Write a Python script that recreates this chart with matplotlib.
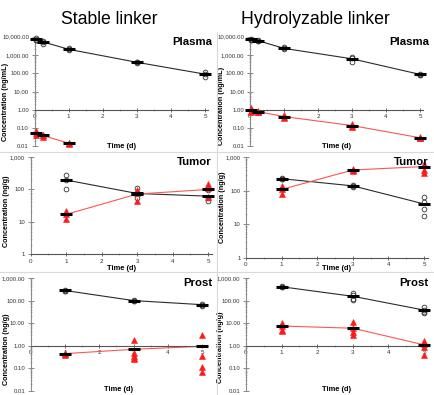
import numpy as np
import matplotlib
matplotlib.use("Agg")
import matplotlib.pyplot as plt
from matplotlib.ticker import LogLocator, FuncFormatter, MultipleLocator, NullFormatter, FixedLocator
from matplotlib.lines import Line2D

plt.rcParams['font.family'] = ['Liberation Sans', 'DejaVu Sans']

W, H = 434, 395

# ---------------- data ----------------
days_plasma = [0.04, 0.25, 1, 3, 5]
days_tissue = [1, 3, 5]

# Stable linker - plasma
stable_plasma_adc_reps = [[8200, 7000, 6300], [5800, 4000, 5200], [2300, 1900, 2100], [430, 370, 400], [115, 65, 95]]
stable_plasma_adc_mean = [7300, 5200, 2050, 400, 90]
stable_plasma_pay_days = [0.04, 0.25, 1]
stable_plasma_pay_reps = [[0.07, 0.055, 0.045], [0.045, 0.035, 0.04], [0.016, 0.013, 0.015]]
stable_plasma_pay_mean = [0.052, 0.04, 0.015]

# Hydrolyzable linker - plasma
hydro_plasma_adc_reps = [[7800, 7000, 6500], [6200, 5600, 6000], [2600, 2000, 2300], [800, 650, 420], [95, 85, 80]]
hydro_plasma_adc_mean = [7100, 6000, 2300, 620, 87]
hydro_plasma_pay_days = [0.04, 0.25, 1, 3, 5]
hydro_plasma_pay_reps = [[1.3, 0.9, 0.8], [0.9, 0.75, 0.8], [0.5, 0.38, 0.42], [0.17, 0.12, 0.13], [0.035, 0.028, 0.03]]
hydro_plasma_pay_mean = [0.95, 0.8, 0.43, 0.14, 0.03]

# Stable linker - tumor
stable_tumor_adc_reps = [[280, 190, 105], [110, 80, 55], [95, 55, 43]]
stable_tumor_adc_mean = [195, 75, 62]
stable_tumor_pay_reps = [[22, 17, 12], [95, 75, 45], [145, 110, 60]]
stable_tumor_pay_mean = [17, 72, 100]

# Hydrolyzable linker - tumor
hydro_tumor_adc_reps = [[240, 215, 225], [150, 130, 135], [66, 47, 29, 17]]
hydro_tumor_adc_mean = [226, 138, 40]
hydro_tumor_pay_reps = [[140, 110, 80], [450, 400, 380], [620, 560, 420, 330]]
hydro_tumor_pay_mean = [108, 410, 520]

# Stable linker - prostate
stable_prost_adc_reps = [[300, 270, 260], [105, 95, 100], [72, 65, 60]]
stable_prost_adc_mean = [280, 100, 66]
stable_prost_pay_reps = [[0.5, 0.45, 0.4], [1.8, 0.47, 0.35, 0.3, 0.26], [3.1, 0.37, 0.12, 0.07]]
stable_prost_pay_mean = [0.45, 0.7, 0.95]

# Hydrolyzable linker - prostate
hydro_prost_adc_reps = [[430, 400, 380], [220, 170, 120, 110], [50, 40, 30, 27]]
hydro_prost_adc_mean = [410, 155, 38]
hydro_prost_pay_reps = [[10, 7.5, 5, 4.5], [11, 6, 4, 3], [1.6, 1.2, 0.9, 0.4]]
hydro_prost_pay_mean = [7.5, 6, 1.1]

titles = ["Stable linker", "Hydrolyzable linker"]
tissue_labels = ["Plasma", "Tumor", "Prost"]
ylabels = ["Concentration (ng/mL)", "Concentration (ng/g)", "Concentration (ng/g)"]
x_ticks = [0, 1, 2, 3, 4, 5]

# ---------------- figure ----------------
fig = plt.figure(figsize=(W / 100, H / 100), dpi=100)


def rect(l, r, top, bottom):
    return [l / W, 1 - bottom / H, (r - l) / W, (bottom - top) / H]


fmt2 = FuncFormatter(lambda v, p: f"{v:,.2f}")
fmt0 = FuncFormatter(lambda v, p: f"{v:,.0f}")

panels = [
    ((34.5, 208.4, 36.7, 146.5), (0.01, 10000), fmt2, 0, days_plasma, stable_plasma_adc_reps, stable_plasma_adc_mean,
     stable_plasma_pay_days, stable_plasma_pay_reps, stable_plasma_pay_mean, (6, 102), 147, (212, 37)),
    ((250, 423.4, 36.7, 146.5), (0.01, 10000), fmt2, 0, days_plasma, hydro_plasma_adc_reps, hydro_plasma_adc_mean,
     hydro_plasma_pay_days, hydro_plasma_pay_reps, hydro_plasma_pay_mean, (222, 106), 147, (429, 37)),
    ((30.7, 211.7, 157, 254.3), (1, 1000), fmt0, 1, days_tissue, stable_tumor_adc_reps, stable_tumor_adc_mean,
     days_tissue, stable_tumor_pay_reps, stable_tumor_pay_mean, (7, 211), 268, (212, 157)),
    ((246, 427.6, 157, 257.7), (1, 1000), fmt0, 1, days_tissue, hydro_tumor_adc_reps, hydro_tumor_adc_mean,
     days_tissue, hydro_tumor_pay_reps, hydro_tumor_pay_mean, (222, 207), 268, (429, 157)),
    ((30.7, 205.7, 278, 391), (0.01, 1000), fmt2, 2, days_tissue, stable_prost_adc_reps, stable_prost_adc_mean,
     days_tissue, stable_prost_pay_reps, stable_prost_pay_mean, (6, 349), 389.5, (212, 278)),
    ((246, 427.6, 278, 391), (0.01, 1000), fmt2, 2, days_tissue, hydro_prost_adc_reps, hydro_prost_adc_mean,
     days_tissue, hydro_prost_pay_reps, hydro_prost_pay_mean, (221, 347), 389.5, (429, 278)),
]

black = "#2b2b2b"
red_line = "#ff5555"
red = "#ff1a1a"

for (px, ylim, fmt, li, adc_t, adc_reps, adc_mean, pay_t, pay_reps, pay_mean,
     ylab_px, xlab_y, lab_px) in panels:
    l, r, top, bottom = px
    ax = fig.add_axes(rect(l, r, top, bottom))
    ax.set_yscale('log')
    ax.set_ylim(*ylim)
    ax.set_xlim(0, 5.1)
    for s in ['top', 'right']:
        ax.spines[s].set_visible(False)
    ax.spines['bottom'].set_position(('data', 1))
    ax.spines['left'].set_color('#8a8a8a')
    ax.spines['bottom'].set_color('#555555')
    ax.spines['left'].set_linewidth(0.8)
    ax.spines['bottom'].set_linewidth(0.8)
    ax.patch.set_alpha(0)

    ax.yaxis.set_major_locator(LogLocator(base=10, numticks=10))
    ax.yaxis.set_minor_locator(LogLocator(base=10, subs=np.arange(2, 10), numticks=20))
    ax.yaxis.set_major_formatter(fmt)
    ax.yaxis.set_minor_formatter(NullFormatter())
    ax.xaxis.set_major_locator(FixedLocator(x_ticks))
    ax.xaxis.set_minor_locator(MultipleLocator(0.5))
    ax.tick_params(axis='y', which='major', direction='inout', length=4, width=0.6, color='#777777',
                   labelsize=4.3, labelcolor='#333333', pad=2)
    ax.tick_params(axis='y', which='minor', direction='inout', length=2, width=0.4, color='#999999')
    ax.tick_params(axis='x', which='major', direction='inout', length=3.5, width=0.6, color='#555555',
                   labelsize=4.5, labelcolor='#333333', pad=1.5)
    ax.tick_params(axis='x', which='minor', direction='inout', length=2, width=0.4, color='#777777')

    # lines through means
    ax.plot(adc_t, adc_mean, color=black, lw=0.8, zorder=2, clip_on=False)
    ax.plot(pay_t, pay_mean, color=red_line, lw=0.8, zorder=2, clip_on=False)

    # replicate points
    for t, reps in zip(adc_t, adc_reps):
        ax.plot([t] * len(reps), reps, linestyle='none', marker='o', ms=3.4, mfc='none',
                mec='#333333', mew=0.6, zorder=3, clip_on=False)
    for t, reps in zip(pay_t, pay_reps):
        ax.plot([t] * len(reps), reps, linestyle='none', marker='^', ms=4.4, mfc=red,
                mec=red, mew=0.4, zorder=4, clip_on=False)

    # mean bars
    ax.plot(adc_t, adc_mean, linestyle='none', marker='_', ms=9, mew=2.2, color='black', zorder=5, clip_on=False)
    ax.plot(pay_t, pay_mean, linestyle='none', marker='_', ms=9, mew=2.2, color='black', zorder=5, clip_on=False)

    ax.set_ylabel(ylabels[li], fontsize=5.2, fontweight='bold')
    ax.yaxis.set_label_coords((ylab_px[0] - l) / (r - l), 1 - (ylab_px[1] - top) / (bottom - top))
    ax.yaxis.label.set_va('center')
    ax.set_xlabel("Time (d)", fontsize=5.4, fontweight='bold')
    ax.xaxis.set_label_coords(0.5, 1 - (xlab_y - top) / (bottom - top))
    ax.xaxis.label.set_va('center')

    fig.text(lab_px[0] / W, 1 - lab_px[1] / H, tissue_labels[li], ha='right', va='top',
             fontsize=8.2, fontweight='bold', color='black', zorder=10)

# titles
fig.text(109 / W, 1 - 20 / H, titles[0], ha='center', va='center', fontsize=12.7)
fig.text(315 / W, 1 - 20 / H, titles[1], ha='center', va='center', fontsize=12.7)

# light grey panel separators
sep = '#d9d9d9'
fig.add_artist(Line2D([0, 1], [1 - 152 / H, 1 - 152 / H], color=sep, lw=0.8, transform=fig.transFigure))
fig.add_artist(Line2D([0, 1], [1 - 272 / H, 1 - 272 / H], color=sep, lw=0.8, transform=fig.transFigure))
fig.add_artist(Line2D([217 / W, 217 / W], [0, 1 - 32 / H], color=sep, lw=0.8, transform=fig.transFigure))

fig.savefig("out.png", dpi=100)
